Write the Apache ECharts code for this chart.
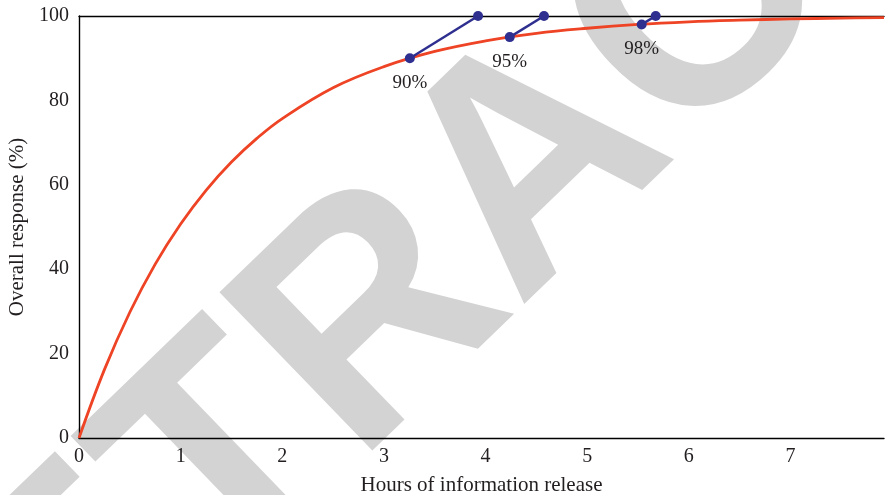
<!DOCTYPE html>
<html><head><meta charset="utf-8">
<script src="https://cdn.jsdelivr.net/npm/echarts@6/dist/echarts.min.js"></script>
<style>html,body{margin:0;padding:0;background:#fff}#c{width:885px;height:495px}</style>
</head><body><div id="c"></div>
<script>
// Red response curve (hours, overall response %)
const hours = [0, 0.25, 0.5, 0.75, 1, 1.25, 1.5, 1.75, 2, 2.5, 3, 3.5, 4, 4.5, 5, 5.5, 6, 6.5, 7, 7.5, 7.92];
const response = [0, 16.2, 29.8, 41.2, 50.7, 58.7, 65.4, 71.0, 75.7, 83.0, 88.0, 91.6, 94.1, 95.9, 97.1, 98.0, 98.6, 99.0, 99.3, 99.5, 99.6];
// Blue marker segments
const markerLabels = ['90%', '95%', '98%'];
const markerStartX = [3.255, 4.238, 5.536];
const markerStartY = [90, 95, 98];
const markerEndX = [3.926, 4.575, 5.674];
const markerEndY = [100, 100, 100];
const xTitle = 'Hours of information release';
const yTitle = 'Overall response (%)';
const watermark = 'RETRACTED';

const FONT = "'Liberation Serif', 'DejaVu Serif', serif";
const TXT = '#231f20';
const RED = '#ee4324';
const BLUE = '#2e2f8f';

const chart = echarts.init(document.getElementById('c'), null, {renderer: 'canvas'});

const series = [{
  type: 'line',
  data: hours.map((h, i) => [h, response[i]]),
  smooth: 0.4,
  showSymbol: false,
  lineStyle: {color: RED, width: 2.8},
  z: 3,
  silent: true
}];
markerLabels.forEach((lab, i) => {
  series.push({
    type: 'line',
    clip: false,
    symbol: 'circle',
    symbolSize: 10,
    itemStyle: {color: BLUE},
    lineStyle: {color: BLUE, width: 2.5},
    z: 4,
    data: [
      {value: [markerStartX[i], markerStartY[i]],
       label: {show: true, position: 'bottom', distance: 10, formatter: lab,
               fontFamily: FONT, fontSize: 19, color: TXT}},
      {value: [markerEndX[i], markerEndY[i]]}
    ]
  });
});

chart.setOption({
  animation: false,
  backgroundColor: '#fff',
  grid: {left: 79, right: 1, top: 16, bottom: 57, containLabel: false, outerBoundsMode: 'none'},
  graphic: {
    elements: [{
      type: 'text',
      z: -10,
      x: 538, y: 168,
      rotation: 44 * Math.PI / 180,
      scaleX: 0.97,
      silent: true,
      style: {
        text: watermark,
        x: 0, y: 0,
        align: 'center',
        verticalAlign: 'middle',
        font: "bold 320px 'Liberation Sans', Arial, sans-serif",
        fill: '#d3d3d3'
      }
    }]
  },
  xAxis: [{
    type: 'value',
    min: 0, max: 7.92, interval: 1,
    name: xTitle,
    nameLocation: 'middle',
    nameGap: 37,
    nameTextStyle: {fontFamily: FONT, fontSize: 21, color: TXT},
    axisLine: {show: true, lineStyle: {color: '#000', width: 1.4}},
    axisTick: {show: false},
    splitLine: {show: false},
    axisLabel: {fontFamily: FONT, fontSize: 20, color: TXT, margin: 9, showMaxLabel: false,
                formatter: v => Number.isInteger(v) ? String(v) : ''}
  }, {
    type: 'value', position: 'top',
    min: 0, max: 7.92,
    axisLine: {show: true, onZero: false, lineStyle: {color: '#000', width: 1.4}},
    axisTick: {show: false}, axisLabel: {show: false}, splitLine: {show: false}
  }],
  yAxis: {
    type: 'value',
    min: 0, max: 100, interval: 20,
    name: yTitle,
    nameLocation: 'middle',
    nameGap: 43,
    nameTextStyle: {fontFamily: FONT, fontSize: 21, color: TXT},
    axisLine: {show: true, lineStyle: {color: '#000', width: 1.4}},
    axisTick: {show: false},
    splitLine: {show: false},
    axisLabel: {fontFamily: FONT, fontSize: 20, color: TXT, margin: 10}
  },
  series: series
});
</script>
</body></html>
